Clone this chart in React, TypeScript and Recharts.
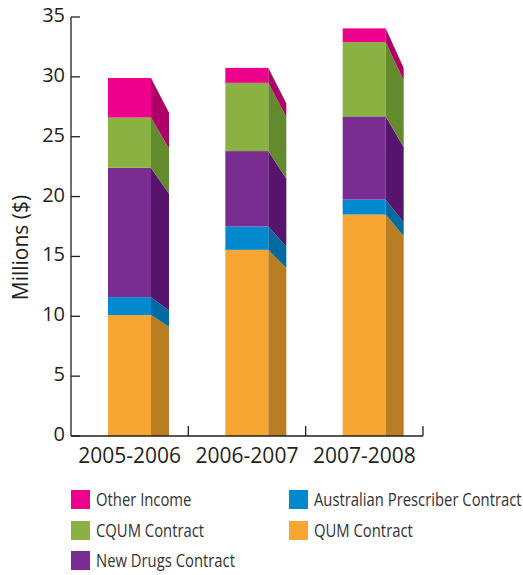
import React from 'react';
import { BarChart, Bar, XAxis, YAxis, Legend } from 'recharts';

// Funding by source, millions of dollars
const years = ['2005-2006', '2006-2007', '2007-2008'];
const qumContract = [10.1, 15.55, 18.5];
const prescriberContract = [1.5, 1.95, 1.25];
const newDrugsContract = [10.8, 6.3, 6.95];
const cqumContract = [4.2, 5.7, 6.2];
const otherIncome = [3.3, 1.25, 1.15];
const yTicks = [0, 5, 10, 15, 20, 25, 30, 35];

const data = years.map((year, i) => ({
  year,
  qum: qumContract[i],
  prescriber: prescriberContract[i],
  newDrugs: newDrugsContract[i],
  cqum: cqumContract[i],
  other: otherIncome[i],
}));

// stacked bottom to top
const series = [
  { key: 'qum', name: 'QUM Contract', front: '#F7A533', side: '#B97E24' },
  { key: 'prescriber', name: 'Australian Prescriber Contract', front: '#0089CF', side: '#006BA0' },
  { key: 'newDrugs', name: 'New Drugs Contract', front: '#7A2D91', side: '#57146C' },
  { key: 'cqum', name: 'CQUM Contract', front: '#8BB142', side: '#648A2E' },
  { key: 'other', name: 'Other Income', front: '#EC008C', side: '#AF0068' },
];

const legendColumns = [
  ['other', 'cqum', 'newDrugs'],
  ['prescriber', 'qum'],
];

const W = 523;
const H = 575;
const MARGIN = { top: 17, right: 100, bottom: 0, left: 1 };
const XAXIS_H = 49;
const LEGEND_H = 90;
const PLOT_BOTTOM = H - MARGIN.bottom - XAXIS_H - LEGEND_H;
const AXIS_COLOR = '#231F20';
const FONT = '"Open Sans", "DejaVu Sans", sans-serif';
const SIDE_DEPTH = 18;
const SIDE_SHRINK = 0.903;

// front face plus a receding side face on the right
const Prism = (props: any) => {
  const { x, y, width, height, fill, side, background } = props;
  if (!height || height <= 0) return null;
  const base = background && background.height ? background.y + background.height : PLOT_BOTTOM;
  const back = (v: number) => base - SIDE_SHRINK * (base - v);
  const xr = x + width;
  const pts = [
    [xr, y],
    [xr + SIDE_DEPTH, back(y)],
    [xr + SIDE_DEPTH, back(y + height)],
    [xr, y + height],
  ]
    .map((p) => p.join(','))
    .join(' ');
  return (
    <g>
      <rect x={x} y={y} width={width} height={height} fill={fill} />
      <polygon points={pts} fill={side} />
    </g>
  );
};

const YTick = (props: any) => {
  const { x, y, payload } = props;
  return (
    <g>
      <line x1={x + 6} x2={x + 15} y1={y} y2={y} stroke={AXIS_COLOR} strokeWidth={1.3} />
      <text x={x} y={y + 5} textAnchor="end" fontSize={20} fill={AXIS_COLOR} fontFamily={FONT}>
        {payload.value}
      </text>
    </g>
  );
};

const X_TICK_MARGIN = 12;

const XTick = (props: any) => {
  const { x, y, payload } = props;
  const half = payload.offset || 0;
  const axisY = y - X_TICK_MARGIN;
  return (
    <g>
      <line
        x1={x + half}
        x2={x + half}
        y1={axisY}
        y2={axisY - 10}
        stroke={AXIS_COLOR}
        strokeWidth={1.3}
      />
      <text x={x} y={y} dy="0.71em" textAnchor="middle" fontSize={21} fill={AXIS_COLOR} fontFamily={FONT}>
        {payload.value}
      </text>
    </g>
  );
};

const LegendBox = () => (
  <div style={{ position: 'relative', width: W, height: LEGEND_H }}>
    {legendColumns.map((col, ci) =>
      col.map((key, ri) => {
        const s = series.find((d) => d.key === key)!;
        return (
          <div
            key={key}
            style={{
              position: 'absolute',
              left: ci === 0 ? 71 : 289,
              top: 5 + ri * 30.5,
              height: 19,
              display: 'flex',
              alignItems: 'center',
              whiteSpace: 'nowrap',
            }}
          >
            <span style={{ width: 19, height: 19, background: s.front, display: 'inline-block', flex: 'none' }} />
            <span
              style={{
                marginLeft: 6,
                fontSize: 19,
                color: '#333333',
                fontFamily: FONT,
                lineHeight: '19px',
                display: 'inline-block',
                transform: 'scaleX(0.78)',
                transformOrigin: 'left center',
              }}
            >
              {s.name}
            </span>
          </div>
        );
      })
    )}
  </div>
);

export default function App() {
  return (
    <div style={{ position: 'absolute', left: 0, top: 0, width: W, height: H, background: '#fff' }}>
      <BarChart width={W} height={H} data={data} margin={MARGIN} barSize={43}>
        <XAxis
          dataKey="year"
          height={XAXIS_H}
          tickSize={0}
          tickMargin={X_TICK_MARGIN}
          tickLine={false}
          tick={<XTick />}
          axisLine={{ stroke: AXIS_COLOR, strokeWidth: 1.3 }}
        />
        <YAxis
          width={70}
          domain={[0, 35]}
          ticks={yTicks}
          interval={0}
          tickSize={0}
          tickMargin={6}
          tickLine={false}
          tick={<YTick />}
          axisLine={{ stroke: AXIS_COLOR, strokeWidth: 1.3 }}
          label={{
            value: 'Millions ($)',
            angle: -90,
            position: 'insideLeft',
            offset: 0,
            dx: 20,
            dy: 21,
            style: { fontSize: 21, fill: AXIS_COLOR, fontFamily: FONT, textAnchor: 'middle' },
          }}
        />
        <Legend
          verticalAlign="bottom"
          align="left"
          height={LEGEND_H}
          wrapperStyle={{ left: 0, width: W }}
          content={<LegendBox />}
        />
        {series.map((s) => (
          <Bar
            key={s.key}
            dataKey={s.key}
            name={s.name}
            stackId="funding"
            fill={s.front}
            isAnimationActive={false}
            shape={(p: any) => <Prism {...p} side={s.side} />}
          />
        ))}
      </BarChart>
    </div>
  );
}
